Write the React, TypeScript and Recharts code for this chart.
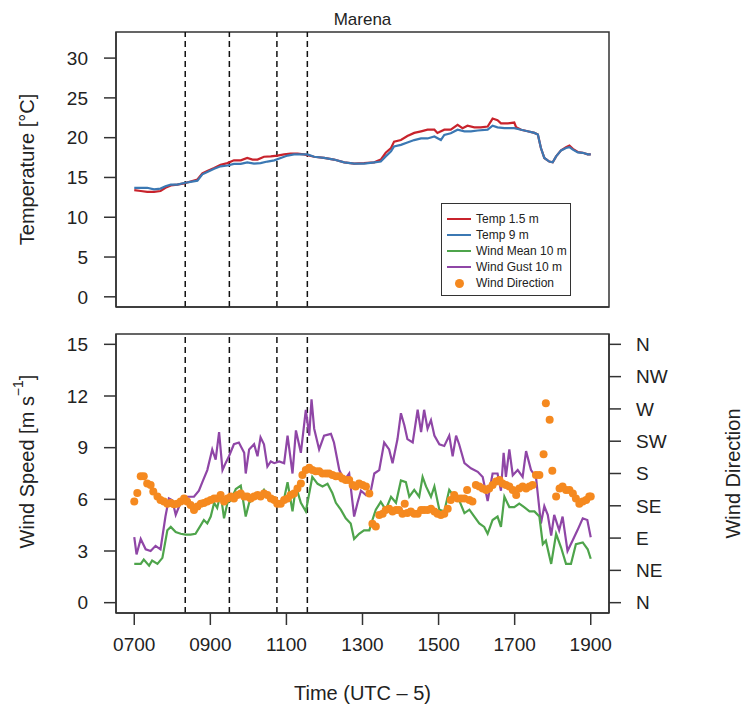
import React from 'react';
import { ComposedChart, Line, Scatter, XAxis, YAxis, ReferenceLine, ReferenceArea, Label } from 'recharts';

// time of day in decimal hours
const temp15Times = [7.0, 7.17, 7.34, 7.52, 7.69, 7.82, 7.96, 8.13, 8.31, 8.48, 8.66, 8.79, 8.92, 9.1, 9.27, 9.45, 9.62, 9.8, 9.97, 10.11, 10.24, 10.41, 10.59, 10.76, 10.94, 11.11, 11.29, 11.46, 11.73, 11.99, 12.25, 12.52, 12.78, 13.04, 13.31, 13.48, 13.61, 13.75, 13.83, 14.01, 14.18, 14.36, 14.54, 14.71, 14.89, 14.97, 15.15, 15.32, 15.5, 15.63, 15.76, 15.94, 16.11, 16.29, 16.42, 16.55, 16.64, 16.82, 16.99, 17.04, 17.17, 17.34, 17.52, 17.61, 17.69, 17.78, 17.91, 18.0, 18.09, 18.22, 18.35, 18.44, 18.53, 18.66, 18.79, 18.92, 19.0];
const temp15Values = [13.4, 13.3, 13.2, 13.2, 13.3, 13.7, 14.0, 14.1, 14.25, 14.5, 14.75, 15.5, 15.8, 16.2, 16.6, 16.8, 17.15, 17.15, 17.45, 17.25, 17.25, 17.6, 17.65, 17.75, 17.9, 18.0, 18.0, 17.9, 17.6, 17.45, 17.25, 16.9, 16.75, 16.8, 16.9, 17.25, 18.1, 18.7, 19.5, 19.7, 20.2, 20.6, 20.8, 21.0, 21.0, 20.6, 21.0, 21.0, 21.6, 21.2, 21.5, 21.3, 21.3, 21.4, 22.4, 22.2, 21.8, 21.8, 21.9, 21.3, 21.0, 20.8, 20.6, 20.4, 18.7, 17.45, 17.0, 16.9, 17.65, 18.4, 18.8, 19.0, 18.6, 18.2, 18.1, 17.9, 17.9];

const temp9Times = [7.0, 7.17, 7.34, 7.52, 7.69, 7.82, 7.96, 8.13, 8.31, 8.48, 8.66, 8.79, 8.92, 9.1, 9.27, 9.45, 9.62, 9.8, 9.97, 10.15, 10.32, 10.5, 10.68, 10.85, 11.03, 11.2, 11.38, 11.55, 11.73, 11.99, 12.25, 12.52, 12.78, 13.04, 13.31, 13.48, 13.61, 13.75, 13.83, 14.01, 14.18, 14.36, 14.54, 14.71, 14.89, 15.06, 15.15, 15.32, 15.5, 15.68, 15.85, 16.03, 16.29, 16.42, 16.55, 16.73, 16.99, 17.17, 17.34, 17.52, 17.61, 17.69, 17.78, 17.91, 18.0, 18.09, 18.22, 18.35, 18.44, 18.53, 18.66, 18.79, 18.92, 19.0];
const temp9Values = [13.7, 13.7, 13.7, 13.5, 13.6, 13.9, 14.1, 14.1, 14.3, 14.45, 14.6, 15.4, 15.7, 16.1, 16.4, 16.5, 16.7, 16.7, 16.9, 16.75, 16.8, 17.0, 17.15, 17.45, 17.75, 17.9, 17.9, 17.9, 17.6, 17.45, 17.25, 16.9, 16.75, 16.75, 16.9, 17.0, 17.65, 18.3, 18.9, 19.1, 19.4, 19.7, 19.9, 19.9, 20.15, 19.7, 20.35, 20.55, 21.0, 20.8, 20.8, 20.9, 21.0, 21.5, 21.3, 21.2, 21.2, 21.0, 20.8, 20.6, 20.4, 18.7, 17.45, 17.0, 16.9, 17.65, 18.4, 18.7, 18.8, 18.5, 18.15, 18.1, 17.9, 17.9];

const gustTimes = [7.0, 7.06, 7.17, 7.3, 7.43, 7.56, 7.69, 7.82, 7.91, 8.0, 8.09, 8.18, 8.31, 8.44, 8.57, 8.7, 8.79, 8.92, 9.05, 9.14, 9.23, 9.32, 9.4, 9.49, 9.62, 9.75, 9.89, 9.93, 10.02, 10.15, 10.24, 10.32, 10.41, 10.5, 10.59, 10.68, 10.81, 10.94, 11.03, 11.16, 11.25, 11.38, 11.51, 11.6, 11.66, 11.73, 11.86, 11.99, 12.17, 12.25, 12.39, 12.52, 12.65, 12.78, 12.87, 12.96, 13.09, 13.22, 13.31, 13.44, 13.57, 13.7, 13.79, 13.92, 14.01, 14.1, 14.18, 14.32, 14.45, 14.54, 14.62, 14.71, 14.8, 14.89, 15.02, 15.15, 15.28, 15.37, 15.46, 15.54, 15.68, 15.85, 16.03, 16.16, 16.29, 16.42, 16.55, 16.64, 16.71, 16.77, 16.86, 16.95, 17.08, 17.21, 17.3, 17.43, 17.56, 17.69, 17.78, 17.87, 17.96, 18.04, 18.17, 18.26, 18.39, 18.52, 18.65, 18.79, 18.91, 19.0];
const gustValues = [3.8, 2.8, 3.7, 3.1, 3.0, 3.3, 3.1, 5.0, 6.05, 5.95, 5.1, 5.6, 6.15, 6.15, 6.15, 6.5, 7.0, 7.7, 8.9, 8.3, 9.9, 7.7, 8.1, 8.5, 9.2, 9.3, 8.7, 7.5, 8.9, 9.2, 8.5, 9.6, 9.2, 7.9, 8.2, 8.1, 8.2, 8.1, 9.7, 7.5, 10.0, 8.7, 11.2, 9.7, 11.8, 10.1, 8.9, 9.7, 9.8, 9.3, 7.7, 7.1, 7.5, 5.0, 5.8, 6.5, 6.25, 6.5, 7.5, 7.7, 9.3, 8.9, 8.1, 9.5, 11.0, 10.3, 9.5, 9.3, 11.2, 9.9, 11.2, 10.1, 10.6, 9.7, 9.2, 9.1, 9.7, 8.5, 9.7, 9.2, 8.1, 7.8, 7.6, 7.3, 5.9, 7.5, 7.5, 6.5, 8.7, 7.3, 8.9, 7.4, 7.7, 7.3, 8.8, 7.7, 7.3, 4.6, 5.6, 5.1, 3.9, 5.1, 4.2, 5.0, 3.0, 3.6, 4.2, 4.9, 4.8, 3.8];

const meanTimes = [7.0, 7.17, 7.25, 7.39, 7.47, 7.61, 7.74, 7.87, 7.96, 8.09, 8.22, 8.35, 8.48, 8.61, 8.75, 8.83, 8.92, 9.01, 9.1, 9.18, 9.27, 9.36, 9.45, 9.54, 9.67, 9.8, 9.93, 10.02, 10.15, 10.28, 10.41, 10.54, 10.68, 10.81, 10.94, 11.03, 11.16, 11.25, 11.38, 11.51, 11.6, 11.68, 11.82, 11.95, 12.08, 12.21, 12.3, 12.43, 12.56, 12.69, 12.78, 12.91, 13.04, 13.18, 13.26, 13.35, 13.48, 13.61, 13.75, 13.88, 14.01, 14.14, 14.23, 14.36, 14.49, 14.58, 14.67, 14.8, 14.89, 15.02, 15.15, 15.28, 15.41, 15.54, 15.68, 15.81, 15.94, 16.07, 16.2, 16.29, 16.42, 16.55, 16.64, 16.73, 16.86, 16.99, 17.12, 17.25, 17.39, 17.52, 17.65, 17.74, 17.82, 17.96, 18.09, 18.22, 18.35, 18.48, 18.61, 18.79, 18.92, 19.0];
const meanValues = [2.25, 2.25, 2.5, 2.15, 2.45, 2.25, 2.6, 4.2, 4.4, 4.1, 4.0, 3.95, 3.95, 4.0, 4.5, 4.8, 4.6, 5.0, 5.8, 5.5, 6.35, 4.9, 5.8, 5.95, 6.6, 6.8, 5.0, 5.8, 6.05, 6.15, 6.55, 6.05, 6.1, 5.8, 6.05, 7.0, 5.3, 6.75, 5.8, 5.3, 6.35, 7.3, 6.9, 6.75, 6.9, 6.35, 5.8, 5.4, 4.9, 4.6, 3.7, 4.0, 4.2, 4.2, 4.8, 5.4, 5.85, 5.4, 6.15, 5.8, 7.1, 7.0, 6.15, 6.55, 6.15, 7.3, 6.75, 6.15, 6.75, 5.4, 5.3, 6.55, 6.15, 5.95, 5.2, 5.4, 5.0, 4.6, 4.4, 4.0, 4.8, 5.0, 4.4, 6.15, 5.55, 5.55, 5.75, 5.55, 5.3, 5.3, 5.0, 3.4, 3.6, 2.25, 4.0, 3.2, 2.25, 2.25, 3.4, 3.5, 3.1, 2.55];

// wind direction in degrees (0 = N, 90 = E, 180 = S, 270 = W)
const dirTimes = [7.0, 7.08, 7.17, 7.25, 7.34, 7.43, 7.5, 7.61, 7.69, 7.78, 7.87, 7.96, 8.04, 8.13, 8.22, 8.31, 8.39, 8.48, 8.57, 8.66, 8.75, 8.83, 8.92, 9.01, 9.1, 9.18, 9.27, 9.36, 9.45, 9.54, 9.62, 9.71, 9.8, 9.89, 9.97, 10.06, 10.15, 10.24, 10.32, 10.41, 10.5, 10.59, 10.68, 10.76, 10.85, 10.94, 11.03, 11.11, 11.2, 11.29, 11.38, 11.42, 11.51, 11.6, 11.68, 11.77, 11.86, 11.95, 12.04, 12.12, 12.21, 12.3, 12.39, 12.47, 12.56, 12.65, 12.74, 12.82, 12.91, 13.0, 13.09, 13.18, 13.26, 13.35, 13.44, 13.53, 13.61, 13.7, 13.79, 13.88, 13.96, 14.05, 14.11, 14.18, 14.27, 14.36, 14.45, 14.54, 14.62, 14.71, 14.8, 14.89, 14.97, 15.06, 15.15, 15.24, 15.32, 15.41, 15.5, 15.59, 15.68, 15.75, 15.81, 15.89, 15.98, 16.07, 16.16, 16.25, 16.33, 16.42, 16.51, 16.6, 16.68, 16.77, 16.86, 16.95, 17.04, 17.12, 17.21, 17.3, 17.39, 17.47, 17.56, 17.65, 17.76, 17.82, 17.92, 17.99, 18.09, 18.18, 18.26, 18.35, 18.44, 18.53, 18.61, 18.7, 18.79, 18.88, 18.96, 19.0];
const dirValues = [141, 153, 176, 176, 166, 164, 155, 148, 143, 141, 138, 139, 137, 138, 141, 145, 141, 136, 129, 134, 138, 139, 141, 143, 145, 145, 150, 141, 145, 148, 145, 150, 152, 148, 148, 145, 148, 150, 148, 152, 150, 145, 143, 138, 138, 143, 145, 150, 152, 159, 166, 178, 185, 188, 185, 183, 183, 180, 180, 180, 178, 176, 176, 173, 171, 171, 164, 162, 166, 164, 162, 152, 110, 106, 122, 124, 129, 131, 127, 129, 129, 124, 138, 125, 127, 124, 124, 129, 129, 129, 131, 127, 124, 122, 124, 131, 143, 150, 145, 145, 145, 157, 143, 141, 164, 162, 159, 157, 159, 164, 169, 171, 166, 164, 162, 157, 150, 159, 162, 159, 162, 164, 178, 178, 207, 278, 255, 184, 148, 159, 162, 157, 157, 152, 145, 138, 141, 143, 148, 148];

const markerTimes = [8.34, 9.5, 10.75, 11.55];
const hourTicks = [7, 9, 11, 13, 15, 17, 19];
const tempTicks = [0, 5, 10, 15, 20, 25, 30];
const speedTicks = [0, 3, 6, 9, 12, 15];
const dirTicks = [0, 45, 90, 135, 180, 225, 270, 315, 360];
const dirLabels = ['N', 'NE', 'E', 'SE', 'S', 'SW', 'W', 'NW', 'N'];

const RED = '#c8232c';
const BLUE = '#3b78b3';
const GREEN = '#4ea44b';
const PURPLE = '#8f46a6';
const ORANGE = '#f5891f';
const AXIS = '#333';
const FONT = '"Liberation Sans", Arial, sans-serif';

const legendItems = [
  { label: 'Temp 1.5 m', color: RED, dot: false },
  { label: 'Temp 9 m', color: BLUE, dot: false },
  { label: 'Wind Mean 10 m', color: GREEN, dot: false },
  { label: 'Wind Gust 10 m', color: PURPLE, dot: false },
  { label: 'Wind Direction', color: ORANGE, dot: true },
];

// R-style axis ranges (4% padding)
const TIME_DOMAIN = [6.52, 19.48];
const TEMP_DOMAIN = [-1.28, 33.28];
const SPEED_DOMAIN = [-0.6, 15.6];
const DIR_DOMAIN = [-14.4, 374.4];

const zip = (times: number[], values: number[], key: string) =>
  times.map((t, i) => ({ t, [key]: values[i] }));

const temp15Data = zip(temp15Times, temp15Values, 'temp');
const temp9Data = zip(temp9Times, temp9Values, 'temp');
const gustData = zip(gustTimes, gustValues, 'speed');
const meanData = zip(meanTimes, meanValues, 'speed');
const dirData = zip(dirTimes, dirValues, 'dir');

const tickStyle = { fill: '#222', fontSize: 19, fontFamily: FONT };

const hourLabel = (h: number) => String(h * 100).padStart(4, '0');

const TempTitle = (props: any) => {
  const { viewBox } = props;
  const cx = viewBox.x + 27;
  const cy = viewBox.y + viewBox.height / 2;
  return (
    <text x={cx} y={cy} transform={`rotate(-90 ${cx} ${cy})`} textAnchor="middle"
      dominantBaseline="central" fontSize={20} fontFamily={FONT} fill="#222">
      Temperature  [°C]
    </text>
  );
};

const SpeedTitle = (props: any) => {
  const { viewBox } = props;
  const cx = viewBox.x + 27;
  const cy = viewBox.y + viewBox.height / 2 - 12;
  return (
    <text x={cx} y={cy} transform={`rotate(-90 ${cx} ${cy})`} textAnchor="middle"
      dominantBaseline="central" fontSize={20} fontFamily={FONT} fill="#222">
      <tspan>Wind Speed  [m s</tspan>
      <tspan dy={-9} fontSize={14}>−1</tspan>
      <tspan dy={9}>]</tspan>
    </text>
  );
};

const DirTitle = (props: any) => {
  const { viewBox } = props;
  const cx = viewBox.x + 124;
  const cy = viewBox.y + viewBox.height / 2;
  return (
    <text x={cx} y={cy} transform={`rotate(-90 ${cx} ${cy})`} textAnchor="middle"
      dominantBaseline="central" fontSize={20} fontFamily={FONT} fill="#222">
      Wind Direction
    </text>
  );
};

const TimeTitle = (props: any) => {
  const { viewBox } = props;
  return (
    <text x={viewBox.x + viewBox.width / 2} y={viewBox.y + 80} textAnchor="middle"
      dominantBaseline="central" fontSize={20} fontFamily={FONT} fill="#222">
      Time (UTC – 5)
    </text>
  );
};

const dirDot = (p: any) => <circle cx={p.cx} cy={p.cy} r={4} fill={ORANGE} />;

const Legend = () => (
  <div style={{
    position: 'absolute', left: 441, top: 203, width: 130, height: 93,
    border: `1.5px solid ${AXIS}`, background: '#fff', fontFamily: FONT, fontSize: 12,
    color: '#222', paddingTop: 7, boxSizing: 'border-box',
  }}>
    {legendItems.map((it) => (
      <div key={it.label} style={{ display: 'flex', alignItems: 'center', height: 16 }}>
        <div style={{ width: 34, display: 'flex', justifyContent: 'center' }}>
          {it.dot
            ? <div style={{ width: 9, height: 9, borderRadius: '50%', background: it.color }} />
            : <div style={{ width: 24, height: 2, background: it.color }} />}
        </div>
        <span>{it.label}</span>
      </div>
    ))}
  </div>
);

export default function App() {
  return (
    <div style={{ position: 'absolute', left: 0, top: 0, width: 745, height: 719, background: '#fff' }}>
      <div style={{ position: 'absolute', left: 0, top: 0 }}>
        <ComposedChart width={745} height={330} margin={{ top: 32, right: 136, bottom: 0, left: 0 }}>
          <XAxis xAxisId="b" type="number" dataKey="t" domain={TIME_DOMAIN} allowDataOverflow
            ticks={hourTicks} tick={false} tickLine={false} height={23} stroke={AXIS} strokeWidth={1.5} />
          <YAxis yAxisId="temp" type="number" domain={TEMP_DOMAIN} allowDataOverflow width={116}
            ticks={tempTicks} interval={0} tickSize={12} tickMargin={16} tick={tickStyle}
            stroke={AXIS} strokeWidth={1.5}>
            <Label content={TempTitle} />
          </YAxis>
          <ReferenceArea xAxisId="b" yAxisId="temp" x1={TIME_DOMAIN[0]} x2={TIME_DOMAIN[1]}
            y1={TEMP_DOMAIN[0]} y2={TEMP_DOMAIN[1]} fill="none" fillOpacity={0} stroke={AXIS}
            strokeWidth={1.5} ifOverflow="visible">
            <Label value="Marena" position="top" offset={7} fontSize={17} fontFamily={FONT} fill="#222" />
          </ReferenceArea>
          {markerTimes.map((m) => (
            <ReferenceLine key={m} x={m} xAxisId="b" yAxisId="temp" stroke="#111"
              strokeWidth={1.5} strokeDasharray="6 4" />
          ))}
          <Line xAxisId="b" yAxisId="temp" data={temp15Data} dataKey="temp" stroke={RED}
            strokeWidth={2.2} dot={false} isAnimationActive={false} />
          <Line xAxisId="b" yAxisId="temp" data={temp9Data} dataKey="temp" stroke={BLUE}
            strokeWidth={2.2} dot={false} isAnimationActive={false} />
        </ComposedChart>
      </div>
      <Legend />
      <div style={{ position: 'absolute', left: 0, top: 330 }}>
        <ComposedChart width={745} height={389} margin={{ top: 4, right: 0, bottom: 0, left: 0 }}>
          <XAxis xAxisId="b" type="number" dataKey="t" domain={TIME_DOMAIN} allowDataOverflow
            ticks={hourTicks} interval={0} tickFormatter={hourLabel} tickSize={12} tickMargin={13}
            tick={tickStyle} height={106} stroke={AXIS} strokeWidth={1.5}>
            <Label content={TimeTitle} />
          </XAxis>
          <YAxis yAxisId="speed" type="number" domain={SPEED_DOMAIN} allowDataOverflow width={116}
            ticks={speedTicks} interval={0} tickSize={12} tickMargin={16} tick={tickStyle}
            stroke={AXIS} strokeWidth={1.5}>
            <Label content={SpeedTitle} />
          </YAxis>
          <YAxis yAxisId="dir" orientation="right" type="number" domain={DIR_DOMAIN} allowDataOverflow
            width={136} ticks={dirTicks} interval={0} tickSize={12} tickMargin={15}
            tickFormatter={(v: number) => dirLabels[dirTicks.indexOf(v)]} tick={tickStyle}
            stroke={AXIS} strokeWidth={1.5}>
            <Label content={DirTitle} />
          </YAxis>
          <ReferenceArea xAxisId="b" yAxisId="speed" x1={TIME_DOMAIN[0]} x2={TIME_DOMAIN[1]}
            y1={SPEED_DOMAIN[0]} y2={SPEED_DOMAIN[1]} fill="none" fillOpacity={0} stroke={AXIS}
            strokeWidth={1.5} ifOverflow="visible" />
          {markerTimes.map((m) => (
            <ReferenceLine key={m} x={m} xAxisId="b" yAxisId="speed" stroke="#111"
              strokeWidth={1.5} strokeDasharray="6 4" />
          ))}
          <Line xAxisId="b" yAxisId="speed" data={gustData} dataKey="speed" stroke={PURPLE}
            strokeWidth={2.2} dot={false} isAnimationActive={false} />
          <Line xAxisId="b" yAxisId="speed" data={meanData} dataKey="speed" stroke={GREEN}
            strokeWidth={2.2} dot={false} isAnimationActive={false} />
          <Scatter xAxisId="b" yAxisId="dir" data={dirData} dataKey="dir" fill={ORANGE}
            shape={dirDot} isAnimationActive={false} />
        </ComposedChart>
      </div>
    </div>
  );
}
